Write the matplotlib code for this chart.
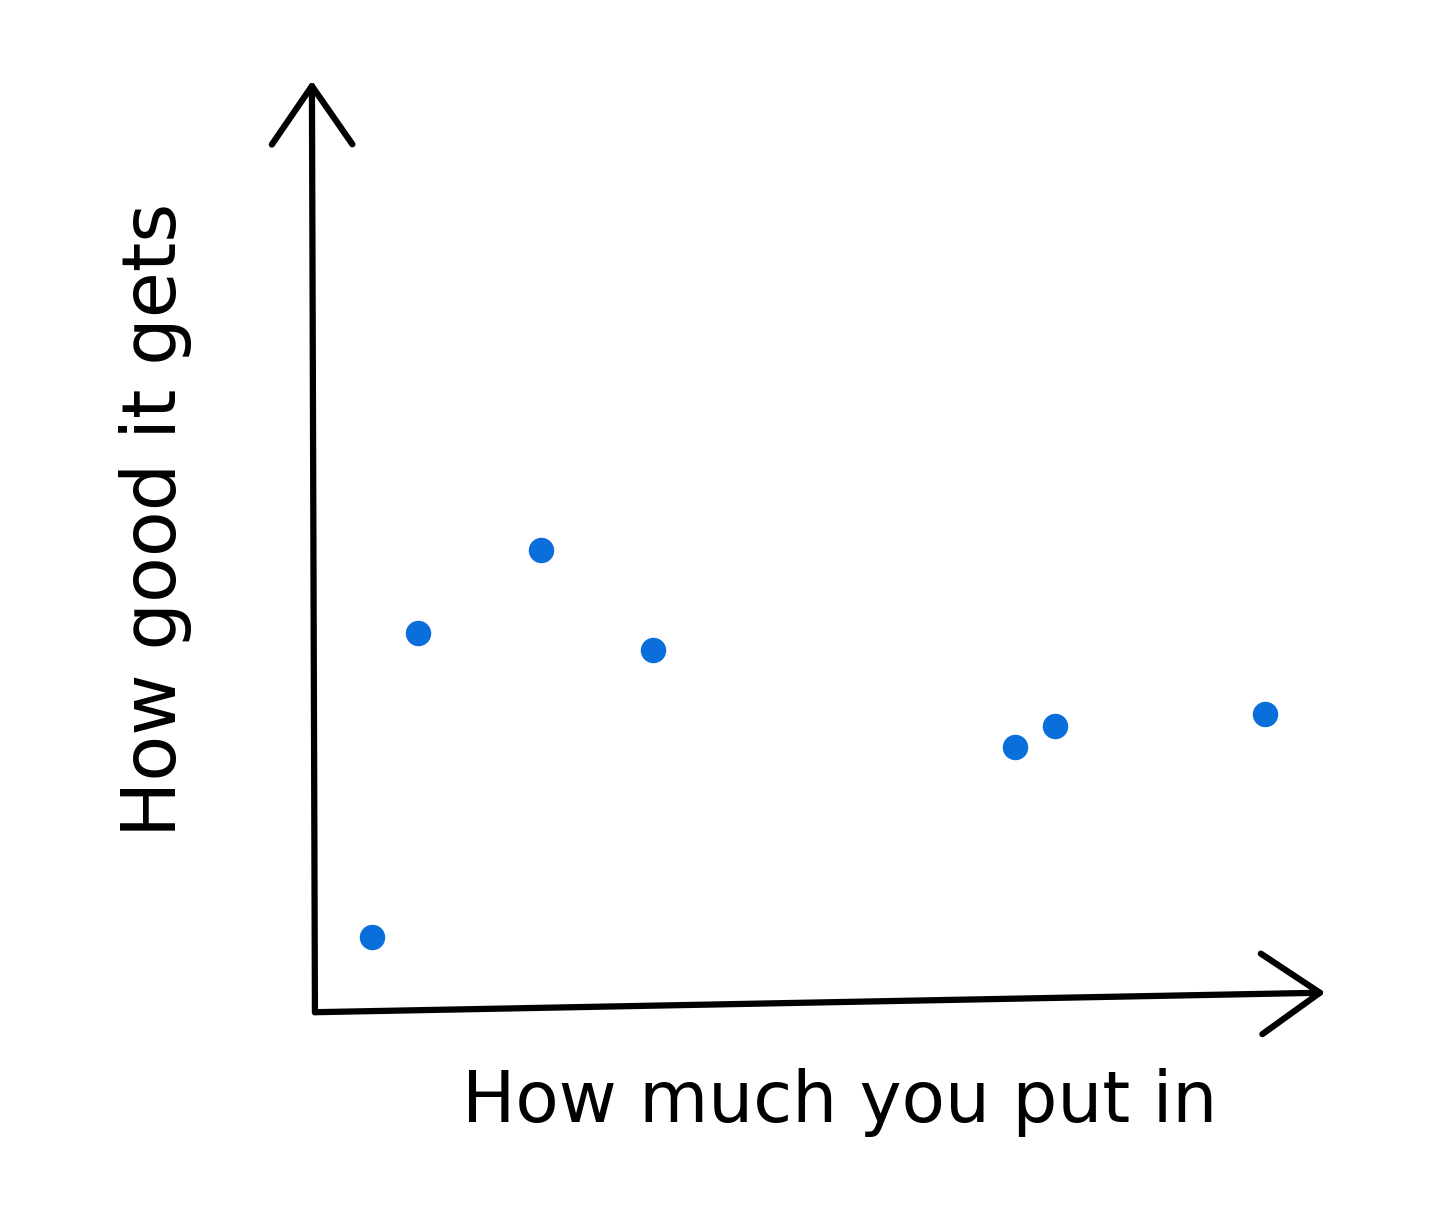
import matplotlib.pyplot as plt

# points (arbitrary units)
effort = [0.57, 1.03, 2.26, 3.38, 7.00, 7.40, 9.50]
quality = [0.75, 3.79, 4.62, 3.62, 2.65, 2.86, 2.98]

x_label = "How much you put in"
y_label = "How good it gets"

fig = plt.figure(figsize=(14.56, 12.21), dpi=100)
ax = fig.add_axes([0.2163, 0.171, 0.694, 0.763])
ax.set_xlim(0, 10.1)
ax.set_ylim(0, 9.32)

# hand drawn looking axes with open arrow heads
arrow = dict(arrowstyle="->,head_length=2.1,head_width=1.45", lw=4.5, color="black",
             mutation_scale=20, shrinkA=0, shrinkB=0)
ax.annotate("", xy=(-0.003, 1.0), xytext=(0, 0), xycoords="axes fraction",
            arrowprops=arrow, annotation_clip=False)
ax.annotate("", xy=(1.0, 0.021), xytext=(0, 0), xycoords="axes fraction",
            arrowprops=arrow, annotation_clip=False)

ax.scatter(effort, quality, s=300, color="#0a6fdb", zorder=3, clip_on=False)

for s in ax.spines.values():
    s.set_visible(False)
ax.set_xticks([])
ax.set_yticks([])

fig.text(0.577, 0.097, x_label, fontsize=51, ha="center", va="center")
fig.text(0.107, 0.574, y_label, fontsize=54, ha="center", va="center", rotation=90)

plt.savefig("out.png", dpi=100)
